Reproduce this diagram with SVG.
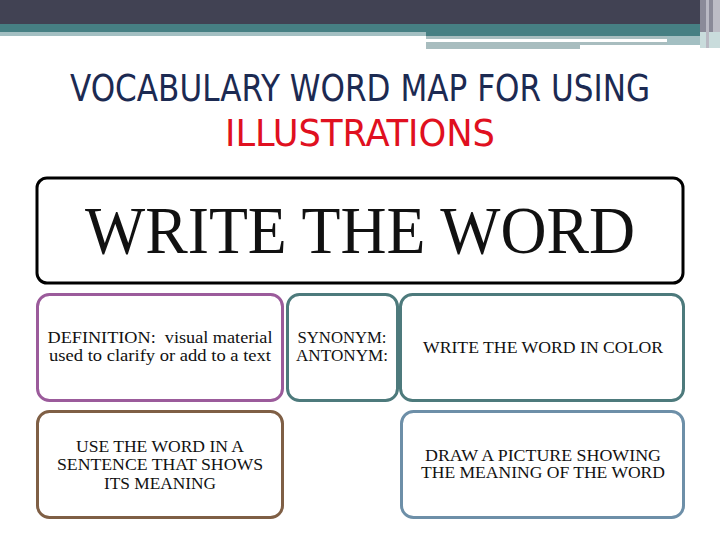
<svg xmlns="http://www.w3.org/2000/svg" width="720" height="540" viewBox="0 0 720 540">
<style>
.box{fill:#fff;stroke-width:3}
.t{font-family:"Liberation Serif","Times New Roman",serif;fill:#111;text-anchor:middle}
.s{font-size:16px}
.title{font-family:"DejaVu Sans Condensed","DejaVu Sans",sans-serif;font-size:37px;text-anchor:middle}
</style>
<rect width="720" height="540" fill="#fff"/>
<g id="header">
<rect x="0" y="0" width="720" height="24" fill="#414253"/>
<rect x="0" y="24" width="720" height="8" fill="#467f83"/>
<rect x="0" y="32" width="426" height="4" fill="#a3bfc2"/>
<rect x="426" y="32" width="274" height="4" fill="#467f83"/>
<rect x="426" y="36" width="241" height="3" fill="#a8bdbf"/>
<rect x="426" y="42" width="241" height="3" fill="#a8bdbf"/>
<rect x="426" y="42" width="154" height="7" fill="#a8bdbf"/>
<rect x="667" y="36" width="33" height="9" fill="#a3bfc2"/>
<rect x="700" y="0" width="20" height="32" fill="#8a8a98"/>
<rect x="700" y="32" width="20" height="16" fill="#c9dcdc"/>
<rect x="706" y="0" width="3" height="48" fill="#b9b9c3"/>
<rect x="713" y="0" width="7" height="32" fill="#bdbdc6"/>
</g>
<g id="title">
<text class="title" x="360" y="101" fill="#1c2a52" textLength="580" lengthAdjust="spacingAndGlyphs">VOCABULARY WORD MAP FOR USING</text>
<text class="title" x="360" y="146" fill="#e01020" textLength="270" lengthAdjust="spacingAndGlyphs">ILLUSTRATIONS</text>
</g>
<g id="word">
<rect class="box" x="37" y="178" width="646" height="105" rx="10" stroke="#000"/>
<text class="t" x="360" y="253" font-size="68" textLength="550" lengthAdjust="spacingAndGlyphs">WRITE THE WORD</text>
</g>
<g id="definition">
<rect class="box" x="37.5" y="294.5" width="245" height="106" rx="12" stroke="#9b5b9b"/>
<text class="t s" x="160" y="343" textLength="225" lengthAdjust="spacingAndGlyphs" xml:space="preserve">DEFINITION:  visual material</text>
<text class="t s" x="160" y="361" textLength="222" lengthAdjust="spacingAndGlyphs">used to clarify or add to a text</text>
</g>
<g id="synonym">
<rect class="box" x="287.5" y="294.5" width="110" height="106" rx="12" stroke="#4d7a7c"/>
<text class="t s" x="342" y="343" textLength="89" lengthAdjust="spacingAndGlyphs">SYNONYM:</text>
<text class="t s" x="342" y="361" textLength="92" lengthAdjust="spacingAndGlyphs">ANTONYM:</text>
</g>
<g id="color">
<rect class="box" x="400.5" y="294.5" width="283" height="106" rx="12" stroke="#4d7a7c"/>
<text class="t s" x="543" y="353" textLength="240" lengthAdjust="spacingAndGlyphs">WRITE THE WORD IN COLOR</text>
</g>
<g id="sentence">
<rect class="box" x="37.5" y="411.5" width="245" height="106" rx="12" stroke="#7f5f45"/>
<text class="t s" x="160" y="452" textLength="168" lengthAdjust="spacingAndGlyphs">USE THE WORD IN A</text>
<text class="t s" x="160" y="470" textLength="206" lengthAdjust="spacingAndGlyphs">SENTENCE THAT SHOWS</text>
<text class="t s" x="160" y="489" textLength="112" lengthAdjust="spacingAndGlyphs">ITS MEANING</text>
</g>
<g id="picture">
<rect class="box" x="401.5" y="411.5" width="282" height="106" rx="12" stroke="#6d8fa8"/>
<text class="t s" x="543" y="461" textLength="236" lengthAdjust="spacingAndGlyphs">DRAW A PICTURE SHOWING</text>
<text class="t s" x="543" y="478" textLength="244" lengthAdjust="spacingAndGlyphs">THE MEANING OF THE WORD</text>
</g>
<g id="connectors"/>
</svg>
